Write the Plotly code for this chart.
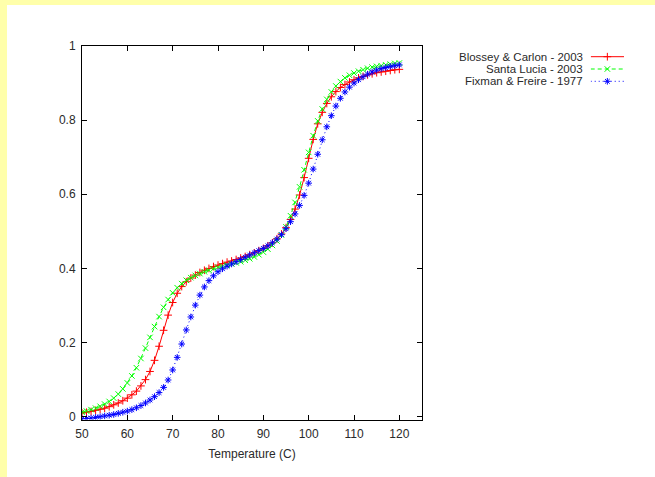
import plotly.graph_objects as go

# Melting curves: fraction of melted base pairs vs temperature
temperature = list(range(50, 121))

blossey_carlon = [
    0.010, 0.012, 0.014, 0.017, 0.020, 0.023, 0.027, 0.032, 0.037, 0.043,
    0.050, 0.059, 0.069, 0.083, 0.100, 0.122, 0.152, 0.190, 0.233, 0.274,
    0.308, 0.333, 0.351, 0.364, 0.374, 0.382, 0.389, 0.395, 0.400, 0.405,
    0.409, 0.413, 0.417, 0.420, 0.424, 0.428, 0.432, 0.437, 0.442, 0.448,
    0.454, 0.461, 0.469, 0.480, 0.493, 0.510, 0.532, 0.560, 0.598, 0.645,
    0.697, 0.748, 0.790, 0.821, 0.845, 0.863, 0.877, 0.888, 0.896, 0.903,
    0.909, 0.914, 0.918, 0.922, 0.925, 0.928, 0.930, 0.932, 0.934, 0.936,
    0.937,
]

santa_lucia = [
    0.012, 0.015, 0.019, 0.023, 0.028, 0.034, 0.041, 0.050, 0.061, 0.075,
    0.091, 0.110, 0.132, 0.157, 0.185, 0.214, 0.243, 0.270, 0.295, 0.316,
    0.334, 0.348, 0.359, 0.368, 0.375, 0.381, 0.386, 0.391, 0.395, 0.399,
    0.403, 0.406, 0.409, 0.412, 0.415, 0.418, 0.422, 0.426, 0.431, 0.437,
    0.444, 0.452, 0.462, 0.474, 0.490, 0.512, 0.542, 0.578, 0.620, 0.666,
    0.713, 0.758, 0.798, 0.830, 0.856, 0.876, 0.892, 0.904, 0.914, 0.921,
    0.927, 0.932, 0.936, 0.940, 0.943, 0.945, 0.947, 0.949, 0.951, 0.953,
    0.954,
]

fixman_freire = [
    -0.006, -0.005, -0.004, -0.002, 0.000, 0.002, 0.004, 0.006, 0.009, 0.012,
    0.015, 0.019, 0.024, 0.030, 0.037, 0.045, 0.054, 0.065, 0.079, 0.099,
    0.126, 0.160, 0.196, 0.234, 0.269, 0.301, 0.328, 0.350, 0.367, 0.380,
    0.391, 0.399, 0.406, 0.412, 0.418, 0.424, 0.430, 0.436, 0.442, 0.448,
    0.454, 0.461, 0.469, 0.479, 0.491, 0.507, 0.526, 0.547, 0.570, 0.597,
    0.630, 0.668, 0.708, 0.747, 0.782, 0.812, 0.838, 0.859, 0.876, 0.889,
    0.900, 0.909, 0.917, 0.924, 0.930, 0.935, 0.939, 0.942, 0.945, 0.947,
    0.949,
]

series_names = ["Blossey & Carlon - 2003", "Santa Lucia - 2003", "Fixman & Freire - 1977"]
series_values = [blossey_carlon, santa_lucia, fixman_freire]

x_tick_values = [50, 60, 70, 80, 90, 100, 110, 120]
y_tick_values = [0, 0.2, 0.4, 0.6, 0.8, 1]
y_tick_labels = ["0", "0.2", "0.4", "0.6", "0.8", "1"]

# Styling (gnuplot-like)
colors = ["#ff0000", "#00ff00", "#0000ff"]
dashes = ["solid", "4px,3px", "1px,3px"]
symbols = ["cross-thin-open", "x-thin-open", "asterisk-open"]
marker_size = 5.5

W, H = 655, 477
FAMILY = "Liberation Sans, Arial, Helvetica, sans-serif"
AXIS_FONT = dict(family=FAMILY, size=12, color="#2a2a2a")
KEY_FONT = dict(family=FAMILY, size=11.5, color="#2a2a2a")

# Pixel geometry of the plot box and the key
box_l, box_r, box_t, box_b = 82, 422, 46, 419.5
key_l, key_r, key_t, key_b = 590.7, 624, 50, 88


def px_x(p):
    return p / W


def px_y(p):
    return 1 - p / H


fig = go.Figure()

for name, vals, col, dash, sym in zip(series_names, series_values, colors, dashes, symbols):
    fig.add_trace(go.Scatter(
        x=temperature, y=vals, name=name, mode="lines+markers",
        line=dict(color=col, width=1, dash=dash),
        marker=dict(symbol=sym, size=marker_size, color=col, line=dict(color=col, width=1)),
        xaxis="x", yaxis="y", showlegend=False, hoverinfo="skip",
    ))

# Key: label on the left, line sample with a point marker on the right
for i, (name, col, dash, sym) in enumerate(zip(series_names, colors, dashes, symbols)):
    fig.add_trace(go.Scatter(
        x=[0, 1], y=[i, i], mode="lines",
        line=dict(color=col, width=1, dash=dash),
        xaxis="x2", yaxis="y2", showlegend=False, hoverinfo="skip",
    ))
    fig.add_trace(go.Scatter(
        x=[0.5], y=[i], mode="markers",
        marker=dict(symbol=sym, size=marker_size, color=col, line=dict(color=col, width=1)),
        xaxis="x2", yaxis="y2", showlegend=False, hoverinfo="skip",
    ))
    fig.add_annotation(
        x=0, y=i, xref="x2", yref="y2", text=name, showarrow=False,
        xanchor="right", yanchor="middle", xshift=-6, font=KEY_FONT,
    )

axis_common = dict(
    showline=True, linecolor="black", linewidth=1, mirror="allticks",
    ticks="inside", ticklen=5, tickcolor="black", tickwidth=1,
    showgrid=False, zeroline=False, automargin=False, tickfont=AXIS_FONT,
)

first_row = 56.7
row_step = 12.3
y2_top = -(first_row - key_t) / row_step
y2_bot = y2_top + (key_b - key_t) / row_step

fig.update_layout(
    width=W, height=H,
    template="none",
    margin=dict(l=0, r=0, t=0, b=0),
    paper_bgcolor="#ffffaa",
    plot_bgcolor="white",
    font=AXIS_FONT,
    showlegend=False,
    xaxis=dict(
        domain=[px_x(box_l), px_x(box_r)], range=[50, 125], anchor="y",
        tickvals=x_tick_values, ticklabelstandoff=3,
        title=dict(text="Temperature (C)", font=AXIS_FONT, standoff=9),
        **axis_common,
    ),
    yaxis=dict(
        domain=[px_y(box_b), px_y(box_t)], range=[-0.0076, 1], anchor="x",
        tickvals=y_tick_values, ticktext=y_tick_labels, ticklabelstandoff=3,
        **axis_common,
    ),
    xaxis2=dict(domain=[px_x(key_l), px_x(key_r)], range=[0, 1], anchor="y2", visible=False),
    yaxis2=dict(domain=[px_y(key_b), px_y(key_t)], range=[y2_bot, y2_top], anchor="x2", visible=False),
    shapes=[dict(
        type="rect", xref="paper", yref="paper", x0=px_x(7), x1=1, y0=0, y1=px_y(5),
        fillcolor="white", line=dict(width=0), layer="below",
    )],
)

fig.write_html("out.html")
